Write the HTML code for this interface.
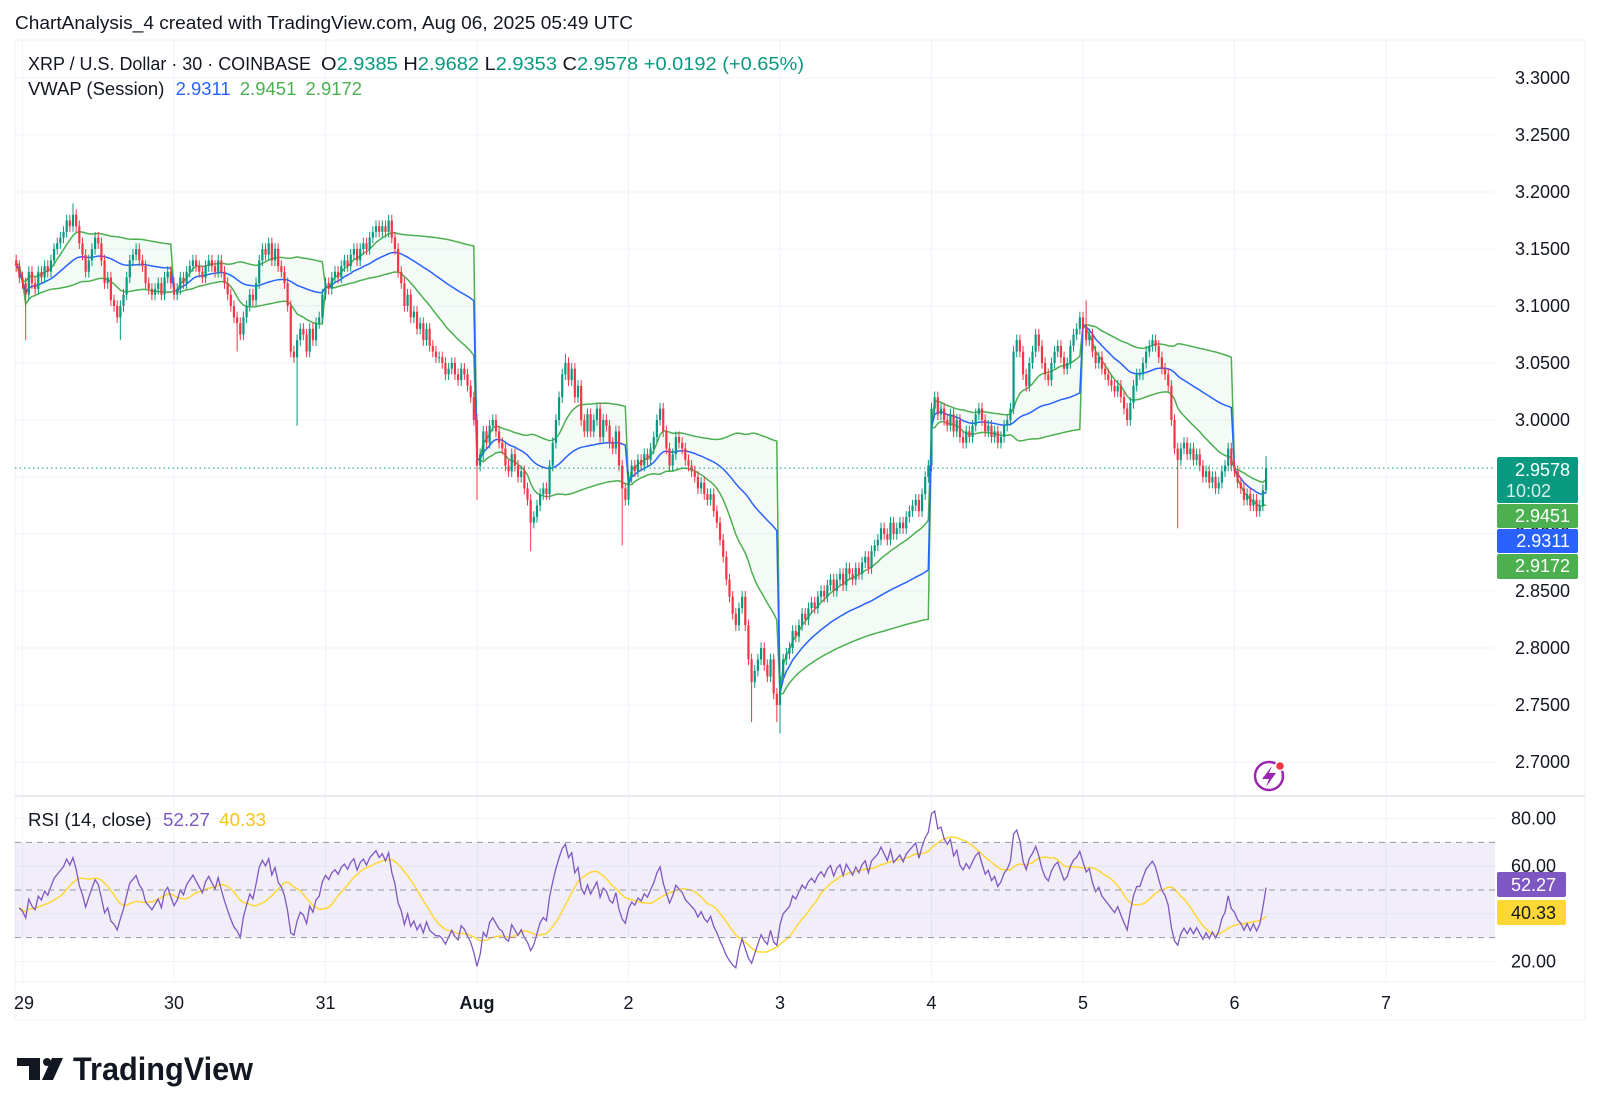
<!DOCTYPE html>
<html><head><meta charset="utf-8"><style>
html,body{margin:0;padding:0;background:#fff;}
body{width:1600px;height:1112px;overflow:hidden;font-family:"Liberation Sans",sans-serif;}
svg text{font-family:"Liberation Sans",sans-serif;}
</style></head><body>
<svg id="chart" width="1600" height="1112" xmlns="http://www.w3.org/2000/svg">
<defs>
<clipPath id="mainClip"><rect x="15" y="40" width="1480" height="756"/></clipPath>
<clipPath id="rsiClip"><rect x="15" y="797" width="1480" height="185"/></clipPath>
</defs>
<text x="15" y="29" font-size="18" fill="#131722" textLength="618" lengthAdjust="spacingAndGlyphs">ChartAnalysis_4 created with TradingView.com, Aug 06, 2025 05:49 UTC</text>
<rect x="15" y="40" width="1570" height="980" fill="none" stroke="#eef0f4"/>
<g id="grid"></g>
<rect id="rsiBand" x="15" width="1480" fill="rgba(126,87,194,0.1)"/>
<g id="bands" clip-path="url(#mainClip)"></g>
<g id="candles" clip-path="url(#mainClip)"></g>
<g id="rsiG" clip-path="url(#rsiClip)"></g>
<line x1="15" x2="1585" y1="796" y2="796" stroke="#e0e3eb" stroke-width="1.5"/>
<line x1="15" x2="1585" y1="982" y2="982" stroke="#f0f3fa"/>
<g id="axes"></g>

<g font-size="18">
<text x="28" y="70" fill="#131722" textLength="283" lengthAdjust="spacingAndGlyphs">XRP / U.S. Dollar · 30 · COINBASE</text>
<text x="321" y="70" fill="#131722" textLength="483" lengthAdjust="spacingAndGlyphs">O<tspan fill="#089981">2.9385</tspan>  H<tspan fill="#089981">2.9682</tspan>  L<tspan fill="#089981">2.9353</tspan>  C<tspan fill="#089981">2.9578</tspan>  <tspan fill="#089981">+0.0192 (+0.65%)</tspan></text>
<text x="28" y="95" fill="#131722" textLength="334" lengthAdjust="spacingAndGlyphs">VWAP (Session) <tspan fill="#2962ff" dx="6">2.9311</tspan> <tspan fill="#4caf50" dx="4">2.9451</tspan> <tspan fill="#4caf50" dx="4">2.9172</tspan></text>
<text x="28" y="826" fill="#131722" textLength="238" lengthAdjust="spacingAndGlyphs">RSI (14, close) <tspan fill="#7e57c2" dx="6">52.27</tspan> <tspan fill="#f5c518" dx="4">40.33</tspan></text>
</g>

<g font-size="18" fill="#fff">
<rect x="1497" y="457" width="81" height="46" rx="2" fill="#089981"/>
<text x="1570" y="476" text-anchor="end">2.9578</text>
<text x="1551" y="497" text-anchor="end" fill="#d6f0eb">10:02</text>
<rect x="1497" y="504" width="81" height="24" rx="2" fill="#4caf50"/>
<text x="1570" y="522" text-anchor="end">2.9451</text>
<rect x="1497" y="529" width="81" height="24" rx="2" fill="#2962ff"/>
<text x="1570" y="547" text-anchor="end">2.9311</text>
<rect x="1497" y="554" width="81" height="25" rx="2" fill="#4caf50"/>
<text x="1570" y="572" text-anchor="end">2.9172</text>
<rect x="1497" y="872" width="69" height="25" rx="2" fill="#7e57c2"/>
<text x="1556" y="891" text-anchor="end">52.27</text>
<rect x="1497" y="900" width="69" height="25" rx="2" fill="#fdd835"/>
<text x="1556" y="919" text-anchor="end" fill="#131722">40.33</text>
</g>

<g>
<circle cx="1269" cy="776" r="14" fill="none" stroke="#9c27b0" stroke-width="2.5"/>
<path d="M1272 766 L1262 779 L1269 779 L1266 787 L1276 773 L1269 773 Z" fill="#9c27b0"/>
<circle cx="1280" cy="766" r="4.5" fill="#f23645" stroke="#fff" stroke-width="1.5"/>
</g>

<g>
<path d="M17 1058 H40 V1080 H29 V1066 H17 Z" fill="#131722"/>
<circle cx="47" cy="1062" r="4" fill="#131722"/>
<path d="M52 1058 H63 L53 1080 H42 Z" fill="#131722"/>
<text x="73" y="1080" font-size="32" font-weight="bold" fill="#131722" textLength="180" lengthAdjust="spacingAndGlyphs">TradingView</text>
</g>
</svg>
<script>
const priorCloses=[3.135,3.125];
const jul29=[3.12,3.11,3.13,3.12,3.115,3.13,3.125,3.135,3.13,3.14,3.15,3.155,3.16,3.165,3.175,3.17,3.18,3.17,3.155,3.145,3.13,3.14,3.15,3.16,3.155,3.14,3.12,3.125,3.105,3.10,3.09,3.10,3.11,3.125,3.14,3.145,3.15,3.14,3.135,3.12,3.115,3.11,3.115,3.12,3.11,3.125,3.13,3.12];
const jul30=[3.11,3.115,3.125,3.12,3.13,3.135,3.14,3.135,3.13,3.125,3.135,3.14,3.135,3.13,3.14,3.13,3.12,3.11,3.10,3.09,3.085,3.075,3.09,3.10,3.11,3.105,3.12,3.14,3.15,3.145,3.155,3.14,3.15,3.135,3.13,3.12,3.10,3.06,3.055,3.07,3.08,3.075,3.06,3.08,3.07,3.085,3.09,3.11];
const jul31=[3.12,3.115,3.125,3.13,3.125,3.135,3.14,3.135,3.145,3.15,3.14,3.15,3.155,3.15,3.16,3.165,3.17,3.165,3.17,3.165,3.175,3.16,3.15,3.13,3.12,3.10,3.11,3.09,3.095,3.08,3.085,3.07,3.08,3.065,3.06,3.055,3.055,3.05,3.04,3.045,3.05,3.04,3.035,3.045,3.04,3.03,3.02,3.00];
const aug1=[2.96,2.97,2.99,2.98,2.995,3.00,2.99,2.98,2.975,2.96,2.955,2.97,2.96,2.95,2.955,2.94,2.93,2.91,2.915,2.925,2.935,2.94,2.935,2.96,2.98,3.00,3.02,3.04,3.05,3.035,3.045,3.02,3.03,3.00,2.99,3.005,2.99,3.00,3.01,2.985,3.00,2.995,2.98,2.975,2.99,2.96,2.94,2.93];
const aug2=[2.95,2.96,2.955,2.965,2.96,2.97,2.965,2.975,2.985,3.00,3.01,2.99,2.975,2.96,2.97,2.985,2.98,2.975,2.965,2.96,2.955,2.95,2.94,2.945,2.935,2.93,2.935,2.92,2.91,2.895,2.88,2.86,2.845,2.83,2.82,2.835,2.845,2.82,2.79,2.77,2.78,2.79,2.80,2.785,2.775,2.79,2.76,2.75];
const aug3=[2.775,2.79,2.795,2.80,2.815,2.81,2.82,2.83,2.825,2.835,2.84,2.835,2.845,2.85,2.845,2.855,2.86,2.85,2.86,2.865,2.855,2.87,2.865,2.86,2.87,2.865,2.875,2.88,2.87,2.885,2.89,2.895,2.905,2.90,2.895,2.91,2.90,2.905,2.91,2.905,2.915,2.92,2.925,2.93,2.92,2.935,2.95,2.96];
const aug4=[3.01,3.02,3.005,3.01,3.0,2.995,3.005,2.99,3.0,2.985,2.98,2.99,2.985,2.995,3.005,3.01,3.0,2.99,2.995,2.985,2.99,2.98,2.985,2.995,3.0,3.01,3.06,3.07,3.06,3.04,3.03,3.05,3.06,3.075,3.065,3.05,3.04,3.035,3.05,3.06,3.065,3.055,3.045,3.05,3.065,3.075,3.08,3.09];
const aug5=[3.08,3.07,3.075,3.06,3.05,3.055,3.045,3.04,3.035,3.03,3.025,3.03,3.02,3.01,3.0,3.015,3.03,3.04,3.04,3.05,3.06,3.065,3.07,3.065,3.055,3.045,3.04,3.03,3.0,2.975,2.965,2.975,2.98,2.97,2.975,2.965,2.97,2.96,2.95,2.955,2.945,2.95,2.94,2.945,2.955,2.96,2.975,2.96];
const aug6=[2.955,2.945,2.94,2.93,2.935,2.925,2.93,2.92,2.925,2.9385,2.9578];
const lowSpikeBars=[3,33,70,89,146,163,192,233,241,242,368];
const lowSpikeVals=[3.07,3.07,3.06,2.995,2.93,2.885,2.89,2.735,2.735,2.725,2.905];
const highSpikeBars=[18,174,339,396];
const highSpikeVals=[3.19,3.058,3.105,2.9682];
const priceTicks=[3.30,3.25,3.20,3.15,3.10,3.05,3.00,2.95,2.90,2.85,2.80,2.75,2.70];
const priceTickLabels=["3.3000","3.2500","3.2000","3.1500","3.1000","3.0500","3.0000","2.9500","2.9000","2.8500","2.8000","2.7500","2.7000"];
const rsiTicks=[80,60,20];
const rsiTickLabels=["80.00","60.00","20.00"];
const dayLabels=["29","30","31","Aug","2","3","4","5","6","7"];
const lastPrice=2.9578;

const NS="http://www.w3.org/2000/svg";
const closes=[].concat(priorCloses,jul29,jul30,jul31,aug1,aug2,aug3,aug4,aug5,aug6);
const N=closes.length;
const opens=closes.map((c,i)=>i?closes[i-1]:3.14);
const highs=closes.map((c,i)=>Math.max(c,opens[i])+0.005);
const lows=closes.map((c,i)=>Math.min(c,opens[i])-0.005);
lowSpikeBars.forEach((b,k)=>{if(b<N)lows[b]=lowSpikeVals[k];});
highSpikeBars.forEach((b,k)=>{if(b<N)highs[b]=highSpikeVals[k];});
lows[N-1]=2.9353;

const barW=151.5/48;
function xB(i){return 22.5+(i-2)*barW;}
function xDay(d){return 22.5+d*151.5;}
function yP(p){return 78+(3.3-p)*1140;}
function yR(v){return 890+(50-v)*2.38;}
function mk(tag,attrs,parent){const e=document.createElementNS(NS,tag);for(const k in attrs)e.setAttribute(k,attrs[k]);parent.appendChild(e);return e;}

const grid=document.getElementById('grid');
const axes=document.getElementById('axes');
priceTicks.forEach((p,k)=>{
  const l=mk('line',{x1:15,x2:1495,y1:yP(p),y2:yP(p),stroke:'#f0f3fa'},grid);
  
  
  const t=mk('text',{x:1570,y:yP(p)+6,'text-anchor':'end','font-size':18,fill:'#131722'},axes);
  t.textContent=priceTickLabels[k];
  
  
});
[80,60,40,20].forEach(v=>{
  const l=mk('line',{x1:15,x2:1495,y1:yR(v),y2:yR(v),stroke:'#f0f3fa'},grid);
  
  
});
rsiTicks.forEach((v,k)=>{
  const t=mk('text',{x:1556,y:yR(v)+6,'text-anchor':'end','font-size':18,fill:'#131722'},axes);
  t.textContent=rsiTickLabels[k];
  
  
});
dayLabels.forEach((d,k)=>{
  const x=xDay(k);
  const l=mk('line',{x1:x,x2:x,y1:40,y2:982,stroke:'#f0f3fa'},grid);
  
  
  const t=mk('text',{x:k===0?Math.max(x,24):x,y:1009,'text-anchor':'middle','font-size':18,fill:'#131722','font-weight':d==='Aug'?'bold':'normal'},axes);
  t.textContent=d;
  
  
});
const rb=document.getElementById('rsiBand');
rb.setAttribute('y',yR(70));rb.setAttribute('height',yR(30)-yR(70));
[70,50,30].forEach(v=>{
  const l=mk('line',{x1:15,x2:1495,y1:yR(v),y2:yR(v),stroke:'#9598a1','stroke-dasharray':'6,5'},grid.parentNode);
  
  
});

// VWAP sessions
const bands=document.getElementById('bands');
const sess={};
for(let i=0;i<N;i++){const s=Math.floor((i-2)/48);(sess[s]=sess[s]||[]).push(i);}
const allUp=[],allMid=[],allDn=[];
const pts=a=>a.map(p=>p[0].toFixed(1)+','+p[1].toFixed(1)).join(' ');
Object.keys(sess).sort((a,b)=>a-b).forEach(s=>{
  const idx=sess[s];let sw=0,s1=0,s2=0;const up=[],mid=[],dn=[];
  idx.forEach(i=>{const tp=(highs[i]+lows[i]+closes[i])/3;sw++;s1+=tp;s2+=tp*tp;const m=s1/sw;const sd=Math.sqrt(Math.max(0,s2/sw-m*m));mid.push([xB(i),yP(m)]);up.push([xB(i),yP(m+sd)]);dn.push([xB(i),yP(m-sd)]);});
  const f=mk('polygon',{points:pts(up)+' '+pts(dn.slice().reverse()),fill:'rgba(76,175,80,0.06)'},bands);
  
  
  allUp.push(...up);allMid.push(...mid);allDn.push(...dn);
});
const u=mk('polyline',{points:pts(allUp),fill:'none',stroke:'#4caf50','stroke-width':1.5},bands);


const dl=mk('polyline',{points:pts(allDn),fill:'none',stroke:'#4caf50','stroke-width':1.5},bands);


const mlv=mk('polyline',{points:pts(allMid),fill:'none',stroke:'#2962ff','stroke-width':1.5},bands);



// candles
const cg=document.getElementById('candles');
for(let i=0;i<N;i++){
  const up=closes[i]>=opens[i];const col=up?'#089981':'#f23645';const x=xB(i);
  const w=mk('line',{x1:x,x2:x,y1:yP(highs[i]),y2:yP(lows[i]),stroke:col,'stroke-width':1},cg);
  
  
  const t=yP(Math.max(opens[i],closes[i])),b=yP(Math.min(opens[i],closes[i]));
  const r=mk('rect',{x:x-1.1,y:t,width:2.2,height:Math.max(1,b-t),fill:col},cg);
  
  
}
const lp=mk('line',{x1:15,x2:1495,y1:yP(lastPrice),y2:yP(lastPrice),stroke:'#089981','stroke-dasharray':'1.5,3'},cg.parentNode);



// RSI (Wilder, seeded)
const rsi=new Array(N).fill(null);let ag=0.005,al=0.006;
for(let i=1;i<N;i++){const ch=closes[i]-closes[i-1];const g=Math.max(ch,0),l=Math.max(-ch,0);
  ag=(ag*13+g)/14;al=(al*13+l)/14;
  rsi[i]=al===0?100:100-100/(1+ag/al);}
const ma=new Array(N).fill(null);
for(let i=1;i<N;i++){let s=0,c=0;for(let j=Math.max(1,i-13);j<=i;j++){s+=rsi[j];c++;}ma[i]=s/c;}
const rg=document.getElementById('rsiG');
const rp=[],mp=[];
for(let i=1;i<N;i++){rp.push(xB(i).toFixed(1)+','+yR(rsi[i]).toFixed(1));mp.push(xB(i).toFixed(1)+','+yR(ma[i]).toFixed(1));}
const ml=mk('polyline',{points:mp.join(' '),fill:'none',stroke:'#fdd835','stroke-width':1.5},rg);


const rl=mk('polyline',{points:rp.join(' '),fill:'none',stroke:'#7e57c2','stroke-width':1.3},rg);


</script>
</body></html>
